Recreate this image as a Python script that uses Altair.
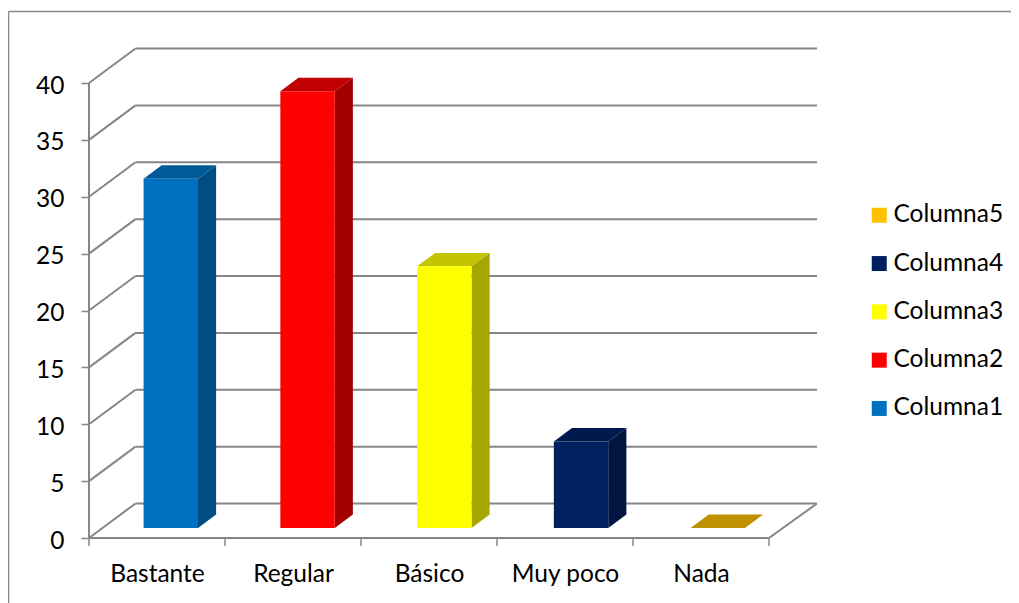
import altair as alt
import pandas as pd

categories = ["Bastante", "Regular", "Básico", "Muy poco", "Nada"]
series = ["Columna1", "Columna2", "Columna3", "Columna4", "Columna5"]
values = [30.7, 38.4, 23.0, 7.6, 0.0]
front_colors = ["#0070C0", "#FF0000", "#FFFF00", "#002060", "#FFC000"]
side_colors = ["#004D84", "#A50000", "#A6A600", "#00153F", "#A88000"]
top_colors = ["#005A9A", "#C00000", "#C4C400", "#001A4D", "#BF9000"]
y_ticks = [0, 5, 10, 15, 20, 25, 30, 35, 40]

FONT = "Lato"
GREY = "#868686"
DX, DY = 46.5 / 136, 34.5 / 11.375   # depth of the floor in axis units
T0, T1 = 0.29, 0.68                  # depth span of the columns
BAR = 0.40
PITCH = 136.75 / 136
N = len(categories)

walls = pd.DataFrame({"v": y_ticks})
walls["y"] = walls.v + DY
walls["x0"] = 0 + DX
walls["x1"] = N + DX + 1.5 / 136
diag = pd.DataFrame({"x": [0.0] * len(y_ticks) + [float(N)], "y": y_ticks + [0]})
diag["x2"] = diag.x + DX
diag.loc[diag.index[-1], "x2"] = N + DX + 1.5 / 136
diag["y2"] = diag.y + DY
tick_df = pd.DataFrame({"x": list(range(N + 1))})

front, side, top = [], [], []
for i, (c, s, v) in enumerate(zip(categories, series, values)):
    l = i * PITCH + 0.5 - BAR / 2 + DX * (T0 + T1) / 2 - DX / 2 + 1 / 136
    r = l + BAR
    bx0, by0 = DX * T0, DY * T0
    bx1, by1 = DX * T1, DY * T1
    front.append(dict(s=s, x=l + bx0, x2=r + bx0, y=by0, y2=by0 + v))
    for xx, yy, yy2 in [(r + bx0, by0, by0 + v), (r + bx1, by1, by1 + v)]:
        side.append(dict(id=i, col=side_colors[i], x=xx, y=yy, y2=yy2))
    top.append(dict(id=i, col=top_colors[i], y=by0 + v, x=l + bx0, x2=r + bx0))
    top.append(dict(id=i, col=top_colors[i], y=by1 + v, x=l + bx1, x2=r + bx1))

xs = alt.Scale(domain=[0, 729 / 136], nice=False, zero=False)
ys = alt.Scale(domain=[0, 490 / 11.375], nice=False, zero=False)
label_expr = "[" + ",".join(f"'{c}'" for c in categories) + "][floor(datum.value)]"

x_axis = alt.Axis(values=[i + 0.5 for i in range(N)], labelExpr=label_expr, title=None, domain=False,
                  ticks=False, grid=False, labelFont=FONT, labelFontSize=24.5, labelColor="black",
                  labelPadding=24, labelAngle=0)
y_axis = alt.Axis(values=y_ticks, title=None, domain=False, grid=False, tickSize=8, tickColor=GREY,
                  tickWidth=1.5, labelFont=FONT, labelFontSize=24.5, labelColor="black", labelPadding=17,
                  labelOffset=3, format="d")

# outer frame
frame_l = alt.Chart(pd.DataFrame({"a": [0]})).mark_rule(color=GREY, size=1.5).encode(
    x=alt.value(-80.5), y=alt.value(-36.5), y2=alt.value(560))
frame_t = alt.Chart(pd.DataFrame({"a": [0]})).mark_rule(color=GREY, size=1.5).encode(
    y=alt.value(-36.5), x=alt.value(-80.5), x2=alt.value(935))

# back wall, side wall, floor
wall_rules = alt.Chart(walls).mark_rule(color=GREY, size=2).encode(
    x=alt.X("x0:Q", scale=xs, axis=x_axis), x2="x1:Q",
    y=alt.Y("y:Q", scale=ys, axis=y_axis))
diag_rules = alt.Chart(diag).mark_rule(color=GREY, size=2).encode(
    x=alt.X("x:Q", scale=xs), x2="x2:Q", y=alt.Y("y:Q", scale=ys), y2="y2:Q")
y_line = alt.Chart(pd.DataFrame({"x": [0], "y": [0], "y2": [40]})).mark_rule(color=GREY, size=2).encode(
    x=alt.X("x:Q", scale=xs), y=alt.Y("y:Q", scale=ys), y2="y2:Q")
x_line = alt.Chart(pd.DataFrame({"x": [0], "x2": [N], "y": [0]})).mark_rule(color=GREY, size=2).encode(
    x=alt.X("x:Q", scale=xs), x2="x2:Q", y=alt.Y("y:Q", scale=ys))
x_ticks = alt.Chart(tick_df).mark_rule(color=GREY, size=1.5).encode(
    x=alt.X("x:Q", scale=xs), y=alt.value(490), y2=alt.value(498))

side_layer = alt.Chart(pd.DataFrame(side)).mark_area().encode(
    x=alt.X("x:Q", scale=xs), y=alt.Y("y:Q", scale=ys), y2="y2:Q",
    detail="id:N", color=alt.Color("col:N", scale=None, legend=None))
top_layer = alt.Chart(pd.DataFrame(top)).mark_area(orient="horizontal").encode(
    y=alt.Y("y:Q", scale=ys), x=alt.X("x:Q", scale=xs), x2="x2:Q",
    detail="id:N", color=alt.Color("col:N", scale=None, legend=None))
front_layer = alt.Chart(pd.DataFrame(front)).mark_rect().encode(
    x=alt.X("x:Q", scale=xs), x2="x2:Q", y=alt.Y("y:Q", scale=ys), y2="y2:Q",
    color=alt.Color("s:N",
                    scale=alt.Scale(domain=series[::-1], range=front_colors[::-1]),
                    legend=alt.Legend(title=None, orient="none", legendX=778, legendY=155,
                                      symbolType="square", symbolSize=225, symbolStrokeWidth=0,
                                      labelFont=FONT, labelFontSize=24.5, labelColor="black",
                                      labelOffset=2, rowPadding=23.3, padding=0, labelLimit=200)))

chart = alt.layer(
    frame_l, frame_t, wall_rules, diag_rules, y_line, x_line, x_ticks,
    side_layer, top_layer, front_layer,
).resolve_scale(color="independent").properties(
    width=729, height=490,
    padding={"left": 81, "top": 40, "right": 193, "bottom": 65},
    autosize=alt.AutoSizeParams(type="none"),
    background="white",
).configure_view(stroke=None)

chart.save("out.html", embed_options={"renderer": "svg", "actions": False})
